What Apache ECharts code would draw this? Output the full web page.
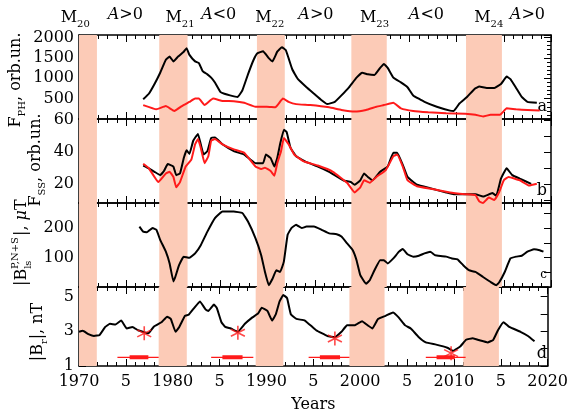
<!DOCTYPE html>
<html lang="en">
<head>
<meta charset="UTF-8">
<title>Solar cycles 20-24</title>
<script src="https://cdn.jsdelivr.net/npm/echarts@6/dist/echarts.min.js"></script>
<style>
  html, body { margin: 0; padding: 0; background: #fff; }
  #main { width: 571px; height: 414px; }
</style>
</head>
<body>
<div id="main"></div>
<script>
// cycle maxima bands (years)
const bandStart = [1969.5, 1978.5, 1988.85, 1998.85, 2011.0];
const bandEnd = [1971.9, 1981.5, 1991.8, 2002.6, 2014.8];

// labels above panel a
const cycleNames = ['20', '21', '22', '23', '24'];
const cycleYears = [1969.6, 1980.7, 1990.2, 2001.3, 2013.4];
const polarityNames = ['>0', '<0', '>0', '<0', '>0'];
const polarityYears = [1974.9, 1984.8, 1995.1, 2006.8, 2017.5];

// panel a: F_PH
const phBlack = [[1976.8,484],[1977.4,619],[1978.0,857],[1978.6,1135],[1979.2,1453],[1979.6,1532],[1980.0,1413],[1980.5,1532],[1981.1,1651],[1981.4,1735],[1981.7,1572],[1982.3,1413],[1982.7,1373],[1983.1,1175],[1983.6,1095],[1984.0,1016],[1984.4,897],[1985.0,659],[1985.4,619],[1986.0,579],[1986.8,540],[1987.3,698],[1987.9,1095],[1988.5,1453],[1988.9,1611],[1989.5,1660],[1990.1,1492],[1990.5,1413],[1991.0,1651],[1991.5,1760],[1991.9,1691],[1992.2,1492],[1992.6,1214],[1993.2,976],[1994.1,778],[1994.9,619],[1995.7,460],[1996.3,365],[1997.1,420],[1997.8,579],[1998.6,778],[1999.4,1016],[2000.0,1135],[2000.6,1095],[2001.3,1079],[2001.9,1254],[2002.3,1349],[2002.7,1254],[2003.3,1016],[2004.1,897],[2004.8,778],[2005.4,579],[2006.6,420],[2007.9,301],[2009.3,206],[2009.7,198],[2010.3,381],[2011.1,540],[2011.9,738],[2012.4,794],[2013.2,762],[2014.0,762],[2014.7,857],[2015.3,1040],[2015.7,976],[2016.3,762],[2016.9,540],[2017.5,420],[2018.5,397]];
const phRed = [[1976.8,341],[1978.2,238],[1979.2,317],[1980.1,198],[1980.9,317],[1981.7,420],[1982.3,500],[1982.7,500],[1983.3,341],[1984.2,500],[1985.2,444],[1986.4,436],[1987.5,397],[1988.7,301],[1989.9,301],[1990.8,286],[1991.6,500],[1992.2,420],[1993.0,365],[1994.5,341],[1996.5,286],[1997.8,222],[1999.2,182],[2000.4,222],[2001.5,301],[2002.3,341],[2003.3,397],[2004.1,262],[2005.4,198],[2007.0,167],[2008.9,143],[2010.9,127],[2012.0,103],[2012.8,63],[2013.6,103],[2014.6,103],[2015.3,262],[2016.3,238],[2017.5,222],[2018.8,206]];

// panel b: F_SS
const ssBlack = [[1976.8,31.4],[1977.4,29.7],[1978.0,27.5],[1978.6,25.4],[1979.0,28.0],[1979.4,32.3],[1980.0,30.8],[1980.3,25.4],[1980.7,26.5],[1981.1,36.1],[1981.4,40.9],[1981.7,38.7],[1982.1,46.9],[1982.6,51.2],[1982.9,44.7],[1983.2,38.3],[1983.6,40.4],[1984.0,48.6],[1984.4,49.0],[1985.2,44.7],[1986.4,40.4],[1987.5,38.3],[1988.7,32.9],[1989.5,32.9],[1989.8,38.3],[1990.3,36.1],[1990.7,30.8],[1991.0,36.1],[1991.3,44.7],[1991.7,53.8],[1992.0,52.3],[1992.4,42.6],[1993.0,37.2],[1994.1,33.5],[1995.3,30.8],[1996.5,27.5],[1998.0,22.2],[1998.8,21.1],[1999.2,19.4],[1999.8,22.2],[2000.2,26.5],[2000.6,24.3],[2001.1,22.2],[2001.9,27.5],[2002.7,30.8],[2003.3,39.4],[2003.7,39.4],[2004.3,31.8],[2004.8,24.3],[2005.8,19.4],[2007.2,17.2],[2008.9,14.6],[2009.7,13.5],[2010.9,13.5],[2012.0,13.5],[2012.8,12.0],[2013.8,14.2],[2014.2,12.5],[2014.7,23.2],[2015.3,29.7],[2015.9,25.4],[2016.7,23.2],[2017.9,20.0]];
const ssRed = [[1976.8,32.5],[1977.4,29.7],[1978.4,21.1],[1979.2,26.5],[1979.6,27.5],[1980.0,24.3],[1980.3,17.8],[1980.7,21.1],[1981.3,30.8],[1981.9,35.1],[1982.3,44.7],[1982.6,48.0],[1982.9,42.6],[1983.3,32.9],[1983.7,37.2],[1984.0,46.9],[1984.4,48.0],[1985.2,44.7],[1986.4,41.5],[1987.5,39.4],[1988.7,30.8],[1989.3,29.2],[1989.7,30.1],[1990.3,28.0],[1990.7,25.0],[1991.0,32.9],[1991.4,40.4],[1991.7,48.6],[1992.2,44.7],[1992.8,38.3],[1993.8,34.0],[1995.3,31.4],[1996.9,27.5],[1998.4,20.6],[1999.2,14.6],[1999.8,17.8],[2000.2,22.2],[2000.8,20.6],[2001.5,24.3],[2002.5,28.6],[2003.3,37.2],[2003.7,38.3],[2004.3,30.8],[2004.8,22.2],[2005.8,18.5],[2007.4,16.8],[2009.3,14.6],[2010.9,13.5],[2012.0,12.9],[2012.4,9.0],[2012.8,8.0],[2013.4,11.4],[2014.0,9.9],[2014.5,14.6],[2015.0,22.2],[2015.5,24.3],[2016.7,22.2],[2017.7,18.9],[2018.5,20.0]];

// panel c: |B_ls|
const lsBlack = [[1976.4,205],[1976.8,188],[1977.2,186],[1977.8,200],[1978.2,194],[1978.6,160],[1979.2,120],[1979.6,80],[1980.0,19],[1980.2,34],[1980.6,74],[1981.1,103],[1981.7,99],[1982.3,114],[1982.9,142],[1983.6,188],[1984.4,234],[1985.2,256],[1986.4,256],[1987.3,251],[1987.9,222],[1988.7,165],[1989.3,108],[1989.7,51],[1990.1,6],[1990.5,28],[1990.9,57],[1991.3,51],[1991.7,86],[1992.1,177],[1992.5,200],[1993.0,211],[1993.6,200],[1994.1,205],[1994.9,205],[1995.7,194],[1996.5,182],[1997.3,179],[1997.8,171],[1998.4,148],[1999.0,125],[1999.4,91],[1999.8,40],[2000.4,11],[2000.8,23],[2001.3,57],[2001.9,91],[2002.3,91],[2002.7,80],[2003.3,97],[2003.9,120],[2004.3,129],[2004.8,111],[2005.4,103],[2006.0,106],[2006.6,114],[2007.2,120],[2007.7,108],[2008.3,105],[2008.9,103],[2009.5,97],[2010.1,94],[2010.7,74],[2011.3,57],[2012.0,51],[2012.8,34],[2013.6,17],[2014.2,6],[2014.5,15],[2015.1,51],[2015.7,97],[2016.3,103],[2016.9,106],[2017.5,120],[2018.2,128],[2018.8,125],[2019.2,120]];

// panel d: |B_r|
const brBlack = [[1970.0,2.97],[1970.4,3.03],[1971.0,2.84],[1971.6,2.73],[1972.2,2.79],[1972.8,3.25],[1973.3,3.43],[1973.9,3.39],[1974.5,3.62],[1975.1,3.16],[1975.7,3.25],[1976.3,3.06],[1976.8,2.97],[1977.4,2.88],[1978.0,3.28],[1978.8,3.52],[1979.4,3.84],[1979.8,3.71],[1980.3,2.97],[1980.7,3.25],[1981.3,3.89],[1981.7,3.95],[1982.3,4.35],[1982.9,4.72],[1983.5,4.26],[1983.8,4.17],[1984.4,4.54],[1984.7,4.35],[1985.2,3.52],[1985.6,3.25],[1986.2,3.16],[1986.95,2.97],[1987.7,3.43],[1988.5,3.80],[1989.1,4.02],[1989.5,4.35],[1990.1,4.17],[1990.6,3.62],[1991.0,3.98],[1991.4,4.72],[1991.8,5.09],[1992.2,4.91],[1992.6,3.98],[1993.2,3.71],[1994.1,3.62],[1995.3,3.06],[1996.5,2.73],[1997.3,2.66],[1998.0,2.97],[1998.6,3.34],[1999.4,3.34],[2000.2,3.58],[2000.8,3.34],[2001.3,3.16],[2001.9,3.71],[2002.7,3.89],[2003.5,4.08],[2004.1,3.80],[2004.8,3.34],[2005.4,3.16],[2006.2,2.69],[2007.0,2.36],[2008.1,2.23],[2009.3,2.05],[2009.9,1.87],[2010.7,2.14],[2011.3,2.51],[2012.0,2.60],[2012.8,2.47],[2013.6,2.36],[2014.2,2.51],[2014.7,3.06],[2015.3,3.52],[2015.9,3.25],[2017.1,2.97],[2017.9,2.73],[2018.6,2.42]];
const minYears = [1976.96, 1986.95, 1997.3, 2009.7];
const minValues = [2.88, 2.92, 2.58, 1.74];
const errLevel = 1.5;
const errThin = [[1974.1, 1978.5], [1984.1, 1988.6], [1994.5, 1998.85], [2007.0, 2011.25]];
const errThick = [[1975.4, 1977.4], [1985.3, 1987.45], [1995.7, 1997.85], [2008.15, 2010.1]];

const panelLetters = ['a', 'b', 'c', 'd'];

const gridTop = [35, 119, 203, 287];
const gridHeight = [84, 84, 84, 83];
const FONT = 'DejaVu Serif';
const PINK = '#fccbb7';
const RED = '#ff1a1a';

const chart = echarts.init(document.getElementById('main'));

const grids = gridTop.map((t, i) => ({ left: 79, width: 472, top: t, height: gridHeight[i] }));

const lineBlack = { color: '#000', width: 1.5 };
const tickStyle = { color: '#000', width: 1 };

const xAxes = [];
grids.forEach((g, i) => {
  ['bottom', 'top'].forEach(pos => {
    xAxes.push({
      gridIndex: i, type: 'value', position: pos, min: 1970, max: 2020, interval: 5,
      axisLine: { show: true, onZero: false, lineStyle: lineBlack },
      axisTick: { show: true, inside: true, length: 7, lineStyle: tickStyle },
      minorTick: { show: true, splitNumber: 5, length: 4, lineStyle: tickStyle },
      splitLine: { show: false },
      axisLabel: {
        show: i === 3 && pos === 'bottom', color: '#000', fontFamily: FONT, fontSize: 16, margin: 8,
        formatter: v => (v % 10 === 0 ? String(v) : '5')
      },
      name: (i === 3 && pos === 'bottom') ? 'Years' : '',
      nameLocation: 'middle', nameGap: 31,
      nameTextStyle: { color: '#000', fontFamily: FONT, fontSize: 16 }
    });
  });
});

const ySpecs = [
  { min: 0, max: 2060, interval: 500, minor: 5, fmt: v => (v > 0 && v <= 2000 ? String(v) : '') },
  { min: 8, max: 60.5, ticks: [10, 20, 30, 40, 50, 60], labels: [20, 40, 60] },
  { min: 0, max: 285, interval: 50, fmt: v => (v === 100 || v === 200 ? String(v) : '') },
  { min: 1, max: 5.55, interval: 1, fmt: v => (v % 2 === 1 ? String(v) : '') }
];

const yAxes = [];
ySpecs.forEach((s, i) => {
  ['left', 'right'].forEach(pos => {
    const ax = {
      gridIndex: i, type: 'value', position: pos, min: s.min, max: s.max,
      axisLine: { show: true, onZero: false, lineStyle: lineBlack },
      axisTick: { show: true, inside: true, length: 7, lineStyle: tickStyle },
      splitLine: { show: false },
      axisLabel: { show: pos === 'left', color: '#000', fontFamily: FONT, fontSize: 16, margin: 5 }
    };
    if (s.interval) ax.interval = s.interval;
    if (s.fmt) ax.axisLabel.formatter = s.fmt;
    if (s.minor) ax.minorTick = { show: true, splitNumber: s.minor, length: 4, lineStyle: tickStyle };
    if (s.ticks) {
      ax.axisTick.customValues = s.ticks;
      ax.axisLabel.customValues = s.labels;
    }
    yAxes.push(ax);
  });
});

function lineSeries(i, data, color) {
  return {
    type: 'line', xAxisIndex: i * 2, yAxisIndex: i * 2, data: data,
    showSymbol: false, smooth: 0.1, z: 3, clip: true,
    lineStyle: { color: color, width: 2 }, silent: true
  };
}

function segmentData(segs) {
  const out = [];
  segs.forEach(s => {
    out.push([s[0], errLevel], [s[1], errLevel], [s[1], '-']);
  });
  return out;
}

const series = [];
grids.forEach((g, i) => {
  series.push({
    type: 'line', xAxisIndex: i * 2, yAxisIndex: i * 2, data: [], z: 1, silent: true,
    markArea: {
      silent: true,
      itemStyle: { color: PINK },
      data: bandStart.map((b, k) => [{ xAxis: Math.max(b, 1970) }, { xAxis: bandEnd[k] }])
    }
  });
});
series.push(lineSeries(0, phBlack, '#000'), lineSeries(0, phRed, RED));
series.push(lineSeries(1, ssBlack, '#000'), lineSeries(1, ssRed, RED));
series.push(lineSeries(2, lsBlack, '#000'));
series.push(lineSeries(3, brBlack, '#000'));
series.push({
  type: 'line', xAxisIndex: 6, yAxisIndex: 6, data: segmentData(errThin),
  showSymbol: false, connectNulls: false, z: 2, lineStyle: { color: RED, width: 1.2 }, silent: true
});
series.push({
  type: 'line', xAxisIndex: 6, yAxisIndex: 6, data: segmentData(errThick),
  showSymbol: false, connectNulls: false, z: 2, lineStyle: { color: RED, width: 4 }, silent: true
});
series.push({
  type: 'scatter', xAxisIndex: 6, yAxisIndex: 6, z: 4, silent: true,
  data: minYears.map((y, k) => [y, minValues[k]]),
  symbol: 'path://M0,-10L0,10M-8.66,-5L8.66,5M-8.66,5L8.66,-5',
  symbolSize: 14,
  itemStyle: { color: 'none', borderColor: RED, borderWidth: 1.6 }
});

const rich = {
  b: { fontFamily: FONT, fontSize: 16, lineHeight: 23, color: '#000' },
  i: { fontFamily: FONT, fontSize: 16, lineHeight: 23, fontStyle: 'italic', color: '#000' },
  s: { fontFamily: FONT, fontSize: 10, lineHeight: 10, verticalAlign: 'bottom', color: '#000' },
  p: { fontFamily: FONT, fontSize: 10, lineHeight: 10, verticalAlign: 'top', color: '#000' }
};

function vText(x, y, text) {
  return {
    type: 'text', x: x, y: y, rotation: Math.PI / 2, silent: true,
    style: { text: text, rich: rich, align: 'center', verticalAlign: 'middle' }
  };
}

chart.setOption({
  animation: false,
  grid: grids,
  xAxis: xAxes,
  yAxis: yAxes,
  series: series
});

// labels that sit on the time axis
const graphics = [];
cycleYears.forEach((yr, k) => {
  const px = chart.convertToPixel({ xAxisIndex: 0 }, yr);
  graphics.push({
    type: 'text', x: px, y: 18, silent: true,
    style: { text: '{b|M}{s|' + cycleNames[k] + '}', rich: rich, align: 'center', verticalAlign: 'middle' }
  });
});
polarityYears.forEach((yr, k) => {
  const px = chart.convertToPixel({ xAxisIndex: 0 }, yr);
  graphics.push({
    type: 'text', x: px, y: 15, silent: true,
    style: { text: '{i|A}{b|' + polarityNames[k] + '}', rich: rich, align: 'center', verticalAlign: 'middle' }
  });
});
panelLetters.forEach((l, k) => {
  const py = chart.convertToPixel({ yAxisIndex: k * 2 }, ySpecs[k].min);
  graphics.push({
    type: 'text', x: 547, y: py - 12, silent: true,
    style: { text: l, fontFamily: FONT, fontSize: k === 2 ? 12 : 16, fill: '#000', align: 'right', verticalAlign: 'middle' }
  });
});

// rotated axis titles
graphics.push(vText(16, 80, '{b|F}{s|PH}{b|, orb.un.}'));
graphics.push(vText(36, 160, '{b|F}{s|SS}{b|, orb.un.}'));
graphics.push({
  type: 'group', x: 22, y: 286, rotation: Math.PI / 2, silent: true,
  children: [
    { type: 'text', x: 0, y: 0, style: { text: '{b||B}{s|ls}', rich: rich, align: 'left', verticalAlign: 'middle' } },
    { type: 'text', x: 17, y: -7, style: { text: 'P,N+S', fontFamily: FONT, fontSize: 10, fill: '#000', align: 'left', verticalAlign: 'middle' } },
    { type: 'text', x: 50, y: 0, style: { text: '{b||, }{i|μ}{b|T}', rich: rich, align: 'left', verticalAlign: 'middle' } }
  ]
});
graphics.push(vText(38, 332, '{b||B}{s|r}{b||, nT}'));

chart.setOption({ graphic: graphics });
</script>
</body>
</html>
